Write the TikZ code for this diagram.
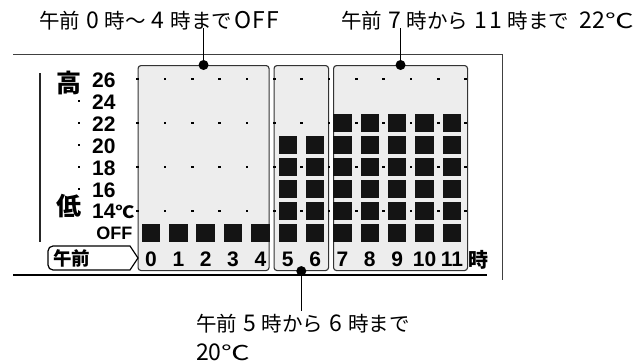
\documentclass[tikz,border=0pt]{standalone}
\usepackage{fontspec}
\setmainfont{Liberation Sans}
\newfontfamily\jp{Noto Sans CJK JP}
\usetikzlibrary{positioning}
\newcommand{\nm}[1]{\kern6pt{\fontsize{23}{23}\selectfont #1}\kern6pt}
\newcommand{\celsius}[1][1.4]{\scalebox{#1}[1]{℃}}

\begin{document}
\begin{tikzpicture}[x=1pt, y=-1pt,
  panel/.style={draw=black!80, line width=1.1pt, fill=black!7, rounded corners=3pt,
    inner sep=0pt, minimum height=205pt, anchor=north west},
  seg/.style={fill=black!92, minimum size=18.5pt, inner sep=0pt},
  gdot/.style={fill=black, minimum size=2.6pt, inner sep=0pt},
  pin/.style={circle, fill=black, minimum size=10pt, inner sep=0pt},
  note/.style={font=\jp\fontsize{20.5}{21}\selectfont, inner sep=0pt, anchor=base west},
  lvl/.style={font=\fontsize{21}{21}\selectfont\bfseries, inner sep=0pt, anchor=west},
  hour/.style={font=\fontsize{21}{21}\selectfont\bfseries, inner sep=0pt},
  big/.style={font=\jp\bfseries\fontsize{25}{25}\selectfont, inner sep=0pt},
]
\useasboundingbox (0,0) rectangle (635,364);

\draw[black!75, line width=0.9pt] (13,54) -- (502,54) -- (502,280);
\draw[black!85, line width=1.8pt] (40,73) -- (40,242);
\draw[line width=2pt] (13,274.5) -- (487,274.5);

\node[panel, minimum width=131pt] (pnight) at (137.5,65) {};
\node[panel, minimum width=54.5pt] (pdawn) at (273.5,65) {};
\node[panel, minimum width=134pt] (pmorn) at (333,65) {};

\foreach \j in {0,2,4,6}
  \foreach \k in {0,...,12}
    \node[gdot] (g\j-\k) at (137.5+27.35*\k, 79+22*\j) {};
\foreach \j in {1,...,5}
  \node[gdot] (m\j) at (79, 79+22*\j) {};

\foreach \i in {0,...,4}
  \node[seg] (s\i-7) at (151+27.35*\i, 233) {};
\foreach \i in {5,6}
  \foreach \j in {3,...,7}
    \node[seg] (s\i-\j) at (151+27.35*\i, 79+22*\j) {};
\foreach \i in {7,...,11}
  \foreach \j in {2,...,7}
    \node[seg] (s\i-\j) at (151+27.35*\i, 79+22*\j) {};

\node[big] (hi) at (69,82.5) {高};
\node[big] (lo) at (69,206.5) {低};
\foreach \t [count=\j from 0] in {26,24,22,20,18,16}
  \node[lvl] (t\t) at (92, 80.5+22*\j) {\t};
\node[lvl] (t14) at (92,211.5) {14{\jp\fontsize{17}{17}\selectfont\celsius[1.1]}};
\node[lvl, anchor=east, font=\fontsize{18}{18}\selectfont\bfseries] (toff) at (132.5,233.5) {OFF};

\draw[line width=1.2pt] (130,246) -- (138,258) -- (130,270) -- (60,270)
  [rounded corners=5pt] -- (48,270) -- (48,246) -- (60,246) [sharp corners] -- cycle;
\node[font=\jp\bfseries\fontsize{18.5}{18.5}\selectfont, inner sep=0pt] (am) at (71.5,258.5) {午前};
\foreach \i in {0,...,11}
  \node[hour] (h\i) at (151+27.35*\i, 259.5) {\i};
\node[hour, font=\jp\bfseries\fontsize{20}{20}\selectfont, right=5pt of h11] (hji) {時};

\node[pin] (pin1) at (pnight.north) {};
\node[pin] (pin2) at (pmorn.north) {};
\node[pin] (pin3) at (pdawn.south) {};
\coordinate[above=32pt of pin1] (c1);
\coordinate[above=32pt of pin2] (c2);
\coordinate[below=35pt of pin3] (c3);
\draw[line width=1.2pt] (pin1) -- (c1);
\draw[line width=1.2pt] (pin2) -- (c2);
\draw[line width=1.2pt] (pin3) -- (c3);

\node[note] (n1) at (39,28) {午前\nm{0}時～\nm{4}時まで\kern2pt{\fontsize{23}{23}\selectfont O\kern1.5pt F\kern1.5pt F}};
\node[note] (n2) at (341,28) {午前\nm{7}時から\nm{1\kern2pt 1}時まで\kern10pt{\fontsize{23}{23}\selectfont 22}\celsius};
\node[note] (n3) at (196,331) {午前\nm{5}時から\nm{6}時まで};
\node[note] (n4) at (196,360) {{\fontsize{23}{23}\selectfont 20}\celsius};
\end{tikzpicture}
\end{document}
